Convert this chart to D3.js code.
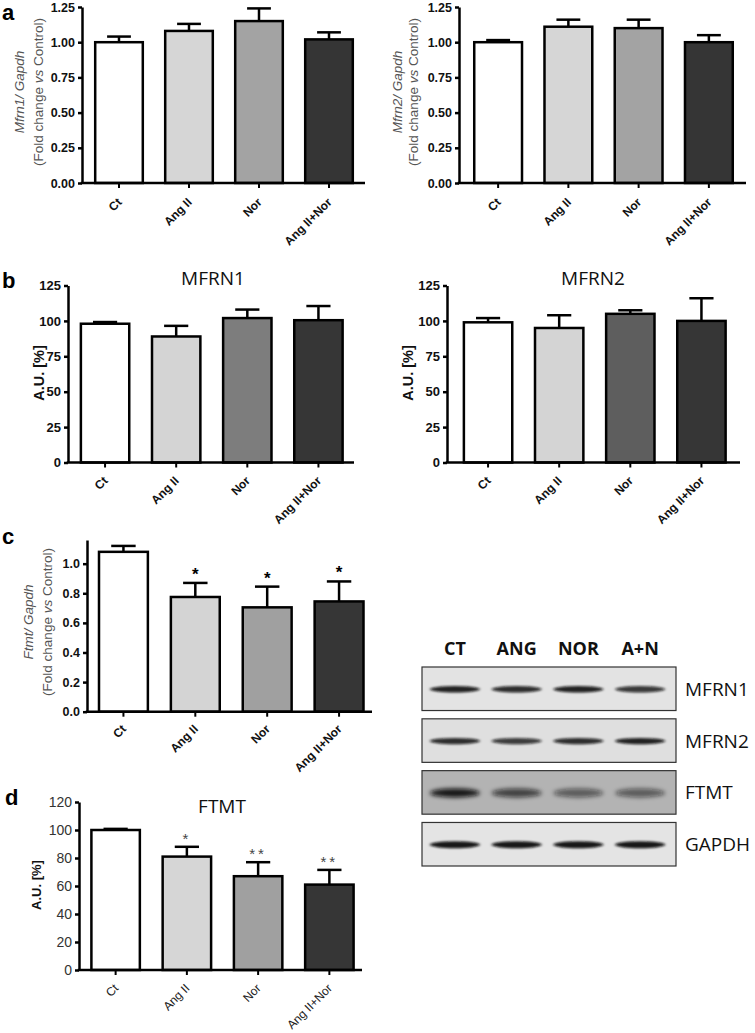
<!DOCTYPE html>
<html>
<head>
<meta charset="utf-8">
<script src="https://cdn.jsdelivr.net/npm/d3@7"></script>
<style>
  body { margin: 0; background: #fff; }
  svg { display: block; }
</style>
</head>
<body>
<div id="chart"></div>
<script>
// groups on the x axis
const groups = ['Ct', 'Ang II', 'Nor', 'Ang II+Nor'];

// a: mRNA, fold change vs control
const mfrn1Mrna = [1.0, 1.08, 1.15, 1.02];
const mfrn1MrnaErr = [0.04, 0.05, 0.09, 0.05];
const mfrn2Mrna = [1.0, 1.11, 1.1, 1.0];
const mfrn2MrnaErr = [0.015, 0.05, 0.06, 0.05];

// b: protein, A.U. [%]
const mfrn1Protein = [98, 89, 102, 100.5];
const mfrn1ProteinErr = [1.2, 7.5, 6, 10];
const mfrn2Protein = [99, 95, 105, 100];
const mfrn2ProteinErr = [3, 9, 2.5, 16];

// c: Ftmt mRNA
const ftmtMrna = [1.08, 0.775, 0.705, 0.745];
const ftmtMrnaErr = [0.04, 0.095, 0.14, 0.135];
const ftmtMrnaSig = ['', '*', '*', '*'];

// d: FTMT protein
const ftmtProtein = [100, 81, 67, 61];
const ftmtProteinErr = [0.8, 7, 10, 10.5];
const ftmtProteinSig = ['', '*', '**', '**'];

// tick values
const ticksA = [0, 0.25, 0.5, 0.75, 1.0, 1.25];
const ticksB = [0, 25, 50, 75, 100, 125];
const ticksC = [0, 0.2, 0.4, 0.6, 0.8, 1.0];
const ticksD = [0, 20, 40, 60, 80, 100, 120];

// western blot
const blotLanes = ['CT', 'ANG', 'NOR', 'A+N'];
const blotRows = ['MFRN1', 'MFRN2', 'FTMT', 'GAPDH'];
const mfrn1Bands = [0.9, 0.85, 0.9, 0.8];
const mfrn2Bands = [0.85, 0.78, 0.85, 0.9];
const ftmtBands = [0.95, 0.7, 0.55, 0.55];
const gapdhBands = [0.95, 0.95, 0.95, 0.95];

const font = '"Liberation Sans", Arial, sans-serif';
const titleFont = '"Open Sans", "Noto Sans", sans-serif';

const svg = d3.select('#chart').append('svg').attr('width', 755).attr('height', 1033);

function barPanel(p) {
  const g = svg.append('g');
  const x = d3.scaleBand().domain(groups).range(p.band).paddingInner(0.32).paddingOuter(0.16);
  const y = d3.scaleLinear().domain(p.domain).range(p.yRange);
  const rows = groups.map((k, i) => ({ k, v: p.values[i], e: p.errs[i], c: p.colors[i], s: p.sig ? p.sig[i] : '' }));

  // error bars (upper only)
  const err = g.selectAll('.err').data(rows).join('g').attr('class', 'err');
  err.append('line')
    .attr('x1', (d) => x(d.k) + x.bandwidth() / 2)
    .attr('x2', (d) => x(d.k) + x.bandwidth() / 2)
    .attr('y1', (d) => y(d.v))
    .attr('y2', (d) => y(d.v + d.e))
    .attr('stroke', '#000').attr('stroke-width', 2.5);
  err.append('line')
    .attr('x1', (d) => x(d.k) + x.bandwidth() / 4)
    .attr('x2', (d) => x(d.k) + (x.bandwidth() * 3) / 4)
    .attr('y1', (d) => y(d.v + d.e))
    .attr('y2', (d) => y(d.v + d.e))
    .attr('stroke', '#000').attr('stroke-width', 2.5);

  g.selectAll('.bar').data(rows).join('rect').attr('class', 'bar')
    .attr('x', (d) => x(d.k))
    .attr('y', (d) => y(d.v))
    .attr('width', x.bandwidth())
    .attr('height', (d) => y(0) - y(d.v))
    .attr('fill', (d) => d.c)
    .attr('stroke', '#000').attr('stroke-width', 2.5);

  if (p.sig) {
    g.selectAll('.sig').data(rows).join('text').attr('class', 'sig')
      .attr('x', (d) => x(d.k) + x.bandwidth() / 2)
      .attr('y', (d) => y(d.v + d.e) - p.sigGap)
      .attr('text-anchor', 'middle')
      .style('font-family', font)
      .style('font-size', p.sigSize + 'px')
      .style('font-weight', p.sigWeight)
      .style('letter-spacing', p.sigSpacing + 'px')
      .attr('fill', p.sigColor)
      .text((d) => d.s);
  }

  // y axis
  const yAxis = g.append('g')
    .attr('transform', `translate(${p.axisX},0)`)
    .call(d3.axisLeft(y).tickValues(p.ticks).tickFormat(d3.format(p.fmt)).tickSize(4).tickPadding(3).tickSizeOuter(0));
  yAxis.selectAll('.domain, .tick line').attr('stroke', '#000').attr('stroke-width', 2.5);
  yAxis.selectAll('text')
    .attr('fill', p.tickColor)
    .style('font-family', font)
    .style('font-size', p.tickSize + 'px')
    .style('font-weight', p.tickWeight);

  // x axis, labels slanted at 45 degrees
  const xAxis = g.append('g')
    .attr('transform', `translate(0,${y(0)})`)
    .call(d3.axisBottom(x).tickSize(5).tickSizeOuter(0));
  xAxis.select('.domain').remove();
  xAxis.selectAll('.tick line').attr('stroke', '#000').attr('stroke-width', 2);
  xAxis.append('line')
    .attr('x1', p.axisX - 1.25).attr('x2', p.xEnd)
    .attr('stroke', '#000').attr('stroke-width', 2.5);
  xAxis.selectAll('.tick text')
    .attr('x', 0).attr('y', 0).attr('dy', null)
    .attr('transform', `translate(3.5,${p.labelDrop}) rotate(-45)`)
    .attr('text-anchor', 'end')
    .attr('fill', p.labelColor)
    .style('font-family', font)
    .style('font-size', p.labelSize + 'px')
    .style('font-weight', p.labelWeight);

  // y label
  const yl = g.append('text')
    .attr('transform', `translate(${p.ylabelX},${p.ylabelY}) rotate(-90)`)
    .attr('text-anchor', 'middle')
    .style('font-family', font);
  p.ylabel(yl);

  if (p.title) {
    g.append('text')
      .attr('x', p.title.x).attr('y', p.title.y)
      .attr('text-anchor', 'middle')
      .style('font-family', titleFont)
      .style('font-size', '19px')
      .attr('fill', '#111')
      .text(p.title.text);
  }
}

function mrnaLabel(gene, gap) {
  return (t) => {
    t.attr('fill', '#555').style('font-size', '13.5px');
    t.append('tspan').attr('x', 0).attr('dy', 0).style('font-style', 'italic').text(gene + '/ Gapdh');
    const l2 = t.append('tspan').attr('x', 0).attr('dy', gap);
    l2.append('tspan').text('(Fold change ');
    l2.append('tspan').style('font-style', 'italic').text('vs');
    l2.append('tspan').text(' Control)');
  };
}

function auLabel(size) {
  return (t) => t.attr('fill', '#111').style('font-size', size + 'px').style('font-weight', 700).text('A.U. [%]');
}

const commonBold = { tickColor: '#111', tickSize: 12.5, tickWeight: 700, labelColor: '#111', labelSize: 12, labelWeight: 700 };

// a left
barPanel({
  ...commonBold,
  values: mfrn1Mrna, errs: mfrn1MrnaErr, colors: ['#fff', '#d6d6d6', '#a3a3a3', '#353535'],
  domain: [0, 1.25], yRange: [183, 7], ticks: ticksA, fmt: '.2f',
  axisX: 82, band: [84, 364], xEnd: 365, labelDrop: 20,
  ylabelX: 24, ylabelY: 92, ylabel: mrnaLabel('Mfrn1', 19),
});
// a right
barPanel({
  ...commonBold,
  values: mfrn2Mrna, errs: mfrn2MrnaErr, colors: ['#fff', '#d6d6d6', '#a3a3a3', '#353535'],
  domain: [0, 1.25], yRange: [183, 7], ticks: ticksA, fmt: '.2f',
  axisX: 459, band: [463, 744], xEnd: 746, labelDrop: 20,
  ylabelX: 402, ylabelY: 92, ylabel: mrnaLabel('Mfrn2', 16),
});
// b left
barPanel({
  ...commonBold, tickSize: 13,
  values: mfrn1Protein, errs: mfrn1ProteinErr, colors: ['#fff', '#d4d4d4', '#7d7d7d', '#363636'],
  domain: [0, 125], yRange: [462.5, 285.5], ticks: ticksB, fmt: 'd',
  axisX: 68, band: [69.5, 354], xEnd: 354, labelDrop: 19,
  ylabelX: 44, ylabelY: 373, ylabel: auLabel(14.5),
  title: { text: 'MFRN1', x: 213, y: 285 },
});
// b right
barPanel({
  ...commonBold, tickSize: 13,
  values: mfrn2Protein, errs: mfrn2ProteinErr, colors: ['#fff', '#d4d4d4', '#5e5e5e', '#363636'],
  domain: [0, 125], yRange: [462.5, 285.5], ticks: ticksB, fmt: 'd',
  axisX: 447, band: [452.5, 737], xEnd: 740, labelDrop: 19,
  ylabelX: 413, ylabelY: 373, ylabel: auLabel(14.5),
  title: { text: 'MFRN2', x: 593, y: 285 },
});
// c
barPanel({
  ...commonBold,
  values: ftmtMrna, errs: ftmtMrnaErr, colors: ['#fff', '#d4d4d4', '#a0a0a0', '#363636'],
  sig: ftmtMrnaSig, sigGap: 3, sigSize: 17, sigWeight: 700, sigColor: '#000', sigSpacing: 0,
  domain: [0, 1.16], yRange: [711.7, 540], ticks: ticksC, fmt: '.1f',
  axisX: 87, band: [87.5, 375], xEnd: 372, labelDrop: 18,
  ylabelX: 33, ylabelY: 622, ylabel: mrnaLabel('Ftmt', 18.5),
});
// d
barPanel({
  tickColor: '#333', tickSize: 14, tickWeight: 400, labelColor: '#222', labelSize: 12, labelWeight: 400,
  values: ftmtProtein, errs: ftmtProteinErr, colors: ['#fff', '#d6d6d6', '#a0a0a0', '#363636'],
  sig: ftmtProteinSig, sigGap: 3, sigSize: 15, sigWeight: 400, sigColor: '#444', sigSpacing: 3,
  domain: [0, 120], yRange: [970, 802], ticks: ticksD, fmt: 'd',
  axisX: 79, band: [80, 365], xEnd: 362, labelDrop: 19,
  ylabelX: 41, ylabelY: 885, ylabel: auLabel(13),
  title: { text: 'FTMT', x: 222, y: 813 },
});

// panel letters
const letters = [['a', 2, 20], ['b', 2, 288], ['c', 2, 544], ['d', 5, 805]];
svg.selectAll('.letter').data(letters).join('text').attr('class', 'letter')
  .attr('x', (d) => d[1]).attr('y', (d) => d[2])
  .style('font-family', font).style('font-size', '22px').style('font-weight', 700)
  .text((d) => d[0]);

// western blot
const defs = svg.append('defs');
defs.append('filter').attr('id', 'blur').attr('x', '-20%').attr('y', '-200%').attr('width', '140%').attr('height', '500%')
  .append('feGaussianBlur').attr('stdDeviation', '1.6 1.3');
defs.append('filter').attr('id', 'blurWide').attr('x', '-20%').attr('y', '-200%').attr('width', '140%').attr('height', '500%')
  .append('feGaussianBlur').attr('stdDeviation', '2.2 2.2');

const lane = d3.scaleBand().domain(blotLanes).range([424, 671]);
const row = d3.scaleBand().domain(blotRows).range([667, 866]).paddingInner(0.16);
const blotData = [
  { name: 'MFRN1', bands: mfrn1Bands, bg: '#e3e3e3', ry: 3.2, filter: 'blur' },
  { name: 'MFRN2', bands: mfrn2Bands, bg: '#dfdfdf', ry: 3.2, filter: 'blur' },
  { name: 'FTMT', bands: ftmtBands, bg: '#b3b3b3', ry: 4.5, filter: 'blurWide' },
  { name: 'GAPDH', bands: gapdhBands, bg: '#e4e4e4', ry: 3.6, filter: 'blur' },
];

svg.selectAll('.lane').data(blotLanes).join('text').attr('class', 'lane')
  .attr('x', (d) => lane(d) + lane.bandwidth() / 2)
  .attr('y', 655)
  .attr('text-anchor', 'middle')
  .style('font-family', titleFont).style('font-size', '18px').style('font-weight', 700)
  .attr('fill', '#111')
  .text((d) => d);

const blot = svg.selectAll('.blot').data(blotData).join('g').attr('class', 'blot')
  .attr('transform', (d) => `translate(0,${row(d.name)})`);
blot.append('rect')
  .attr('x', 422).attr('width', 254)
  .attr('height', row.bandwidth())
  .attr('fill', (d) => d.bg)
  .attr('stroke', '#333').attr('stroke-width', 1.2);
blot.each(function (d) {
  d3.select(this).selectAll('ellipse')
    .data(d.bands.map((v, i) => ({ lane: blotLanes[i], v })))
    .join('ellipse')
    .attr('cx', (b) => lane(b.lane) + lane.bandwidth() / 2)
    .attr('cy', row.bandwidth() / 2 + 0.5)
    .attr('rx', 25)
    .attr('ry', d.ry)
    .attr('fill', '#0d0d0d')
    .attr('fill-opacity', (b) => b.v)
    .attr('filter', `url(#${d.filter})`);
});
blot.append('text')
  .attr('x', 685)
  .attr('y', row.bandwidth() / 2 + 7)
  .style('font-family', titleFont).style('font-size', '19px')
  .attr('fill', '#111')
  .text((d) => d.name);
</script>
</body>
</html>
